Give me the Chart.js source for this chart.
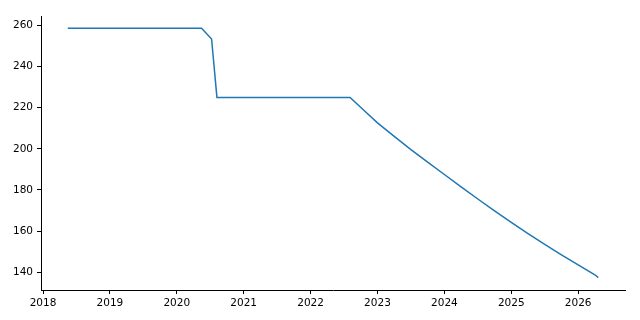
<!DOCTYPE html>
<html>
<head>
<meta charset="utf-8">
<script src="https://cdn.jsdelivr.net/npm/chart.js@4.4.1/dist/chart.umd.min.js"></script>
<style>
    html, body { margin: 0; padding: 0; background: #fff; }
    #wrap { width: 640px; height: 320px; }
</style>
</head>
<body>
<div id="wrap"><canvas id="chart" width="640" height="320"></canvas></div>
<script>
// decimal years and values
const years = [2018.37, 2019.0, 2019.5, 2020.0, 2020.37, 2020.52, 2020.6, 2021.0, 2021.5, 2022.0, 2022.59,
    2022.8, 2023.0, 2023.25, 2023.5, 2023.75, 2024.0, 2024.25, 2024.5, 2024.75, 2025.0, 2025.25, 2025.5,
    2025.75, 2026.0, 2026.25, 2026.3];
const values = [258.5, 258.5, 258.5, 258.5, 258.5, 253.3, 224.9, 224.9, 224.9, 224.9, 224.9,
    218.6, 212.6, 206.0, 199.6, 193.5, 187.5, 181.5, 175.6, 169.8, 164.2, 158.8, 153.6,
    148.5, 143.6, 138.8, 137.4];
const xTicks = [2018, 2019, 2020, 2021, 2022, 2023, 2024, 2025, 2026];
const yTicks = [140, 160, 180, 200, 220, 240, 260];

const points = years.map((x, i) => ({ x: x, y: values[i] }));

Chart.defaults.font.family = '"DejaVu Sans", sans-serif';
Chart.defaults.font.size = 10.5;
Chart.defaults.color = '#000';

new Chart(document.getElementById('chart'), {
    type: 'line',
    data: {
        datasets: [{
            data: points,
            borderColor: '#1f77b4',
            borderWidth: 1.5,
            pointRadius: 0,
            tension: 0,
            fill: false
        }]
    },
    options: {
        responsive: false,
        animation: false,
        events: [],
        layout: { padding: { top: 16, right: 15, left: 0, bottom: 0 } },
        plugins: { legend: { display: false }, tooltip: { enabled: false } },
        scales: {
            x: {
                type: 'linear',
                min: 2017.97,
                max: 2026.7,
                afterBuildTicks: axis => { axis.ticks = xTicks.map(v => ({ value: v })); },
                afterFit: axis => { axis.height = 30; },
                ticks: { padding: 3, maxRotation: 0, callback: v => String(v) },
                grid: { drawOnChartArea: false, tickLength: 4, tickColor: '#000', tickWidth: 1 },
                border: { color: '#000', width: 1 }
            },
            y: {
                min: 131.4,
                max: 264.5,
                afterBuildTicks: axis => { axis.ticks = yTicks.map(v => ({ value: v })); },
                afterFit: axis => { axis.width = 41; },
                ticks: { padding: 4 },
                grid: { drawOnChartArea: false, tickLength: 4, tickColor: '#000', tickWidth: 1 },
                border: { color: '#000', width: 1 }
            }
        }
    }
});
</script>
</body>
</html>
